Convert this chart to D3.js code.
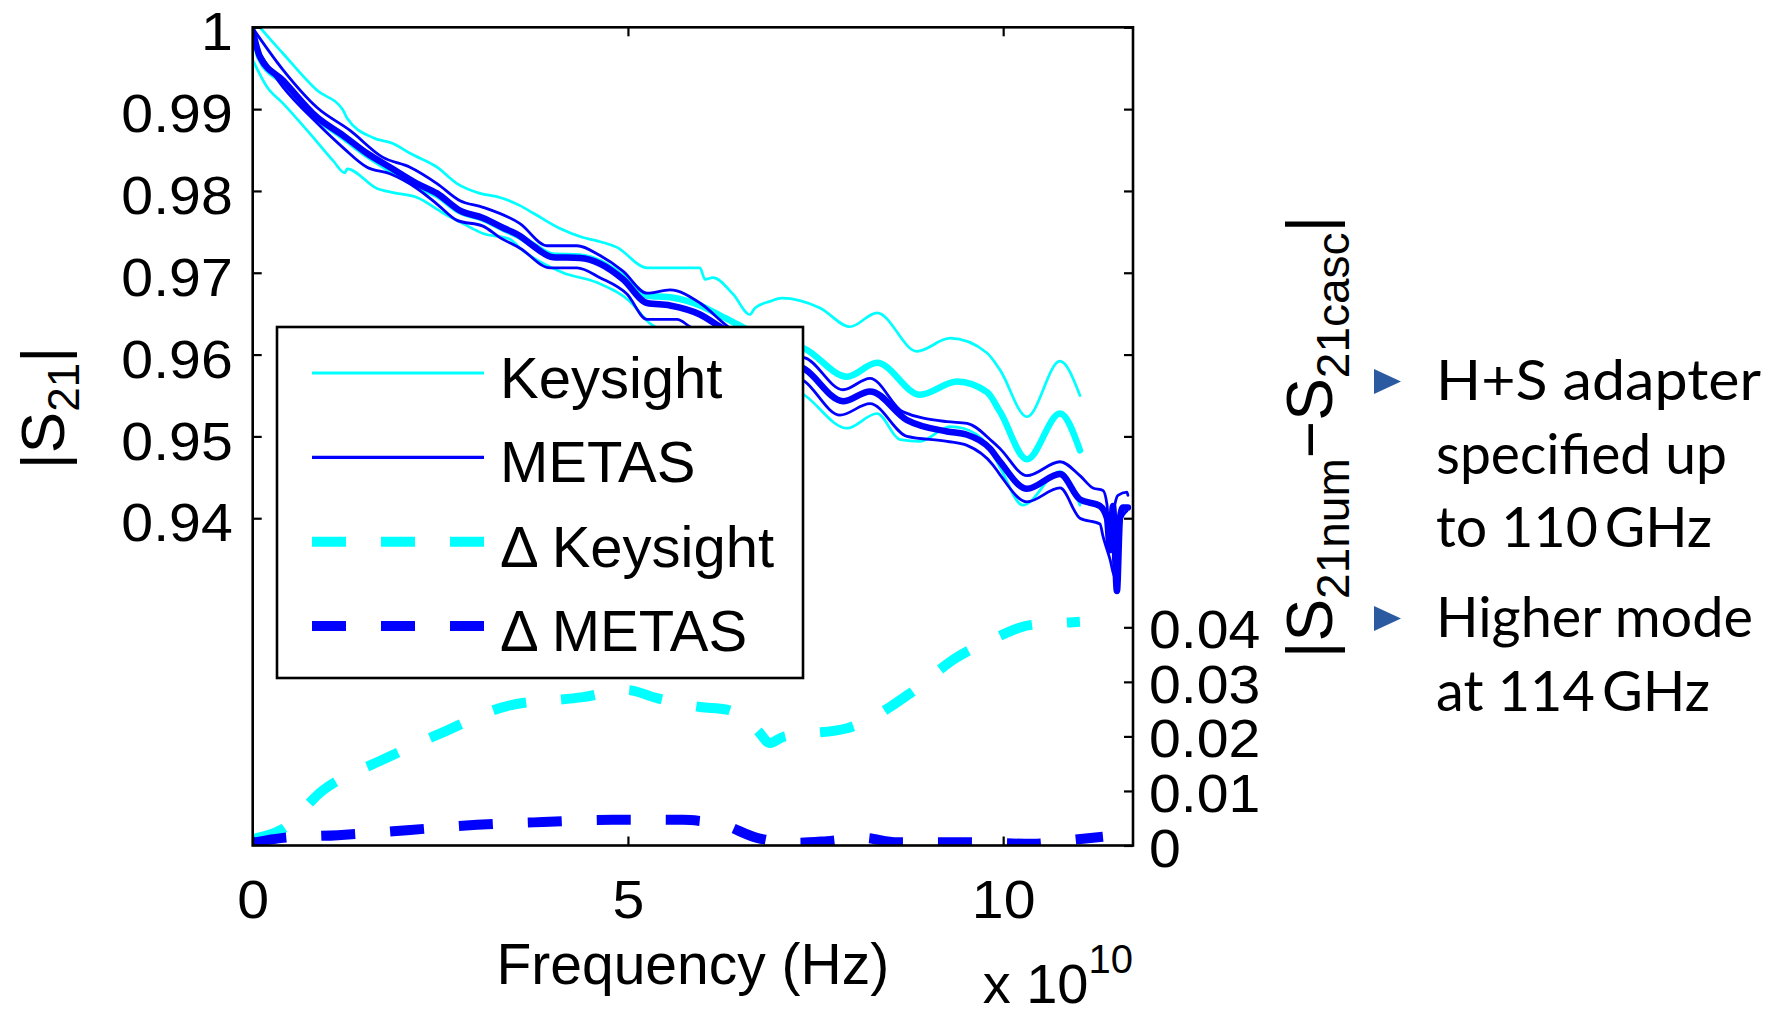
<!DOCTYPE html>
<html><head><meta charset="utf-8">
<script src="https://cdn.jsdelivr.net/npm/d3@7"></script>
<style>
html,body{margin:0;padding:0;background:#fff;}
svg{display:block;background:#fff;}
text{font-family:"Liberation Sans",Arial,Helvetica,sans-serif;fill:#000;}
</style></head><body>
<svg id="chart" width="1774" height="1016"></svg>
<script>
// ---------- DATA (frequency in GHz, |S21| linear) ----------
const keysightUpper = [[0,1.0011],[0.97,1.0000],[4.04,0.9968],[8.57,0.9923],[12.03,0.9899],[12.56,0.9889],[16.03,0.9865],[18.69,0.9858],[20.96,0.9846],[24.56,0.9829],[27.23,0.9809],[30.29,0.9797],[32.95,0.9792],[35.62,0.9782],[37.35,0.9773],[40.95,0.9754],[44.01,0.9743],[45.88,0.9739],[48.54,0.9731],[52.54,0.9706],[55.20,0.9706],[59.60,0.9706],[60.27,0.9692],[61.33,0.9694],[64.00,0.9674],[66.26,0.9649],[66.93,0.9657],[68.93,0.9665],[70.53,0.9669],[75.60,0.9657],[79.60,0.9634],[83.19,0.9651],[88.52,0.9604],[92.92,0.9620],[97.85,0.9602],[99.59,0.9581],[103.17,0.9524],[107.57,0.9592],[110.23,0.9550]];
const keysightNominal = [[0,0.9995],[0.97,0.9962],[4.04,0.9933],[8.57,0.9889],[12.03,0.9866],[15.23,0.9844],[18.29,0.9826],[21.90,0.9807],[24.56,0.9795],[27.63,0.9775],[30.69,0.9766],[33.35,0.9754],[35.62,0.9744],[37.35,0.9734],[40.01,0.9721],[43.61,0.9720],[46.28,0.9713],[49.34,0.9695],[52.54,0.9672],[55.60,0.9670],[59.60,0.9660],[62.26,0.9648],[68.00,0.9622],[73.60,0.9607],[79.20,0.9573],[83.19,0.9590],[88.92,0.9551],[93.85,0.9567],[97.85,0.9554],[99.59,0.9530],[103.17,0.9472],[107.57,0.9528],[110.23,0.9483]];
const keysightLower = [[0,0.9960],[1.91,0.9927],[4.04,0.9907],[7.63,0.9870],[10.70,0.9837],[12.30,0.9822],[12.56,0.9827],[16.56,0.9803],[18.69,0.9798],[21.90,0.9792],[25.36,0.9773],[28.02,0.9760],[30.69,0.9748],[34.28,0.9741],[35.62,0.9730],[41.35,0.9700],[45.88,0.9688],[50.27,0.9665],[52.94,0.9638],[58.00,0.9620],[66.00,0.9590],[73.60,0.9550],[79.20,0.9510],[83.19,0.9528],[86.26,0.9496],[88.92,0.9494],[92.92,0.9512],[94.65,0.9510],[97.85,0.9490],[99.59,0.9462],[102.64,0.9416],[107.57,0.9457],[110.23,0.9416]];
const metasUpper = [[0,0.9999],[4.04,0.9948],[8.57,0.9902],[12.96,0.9874],[17.36,0.9841],[20.96,0.9829],[24.56,0.9809],[27.63,0.9788],[30.69,0.9780],[35.62,0.9760],[39.21,0.9733],[43.21,0.9733],[46.28,0.9721],[49.34,0.9702],[52.54,0.9675],[55.60,0.9679],[59.60,0.9663],[63.20,0.9635],[68.93,0.9602],[73.60,0.9596],[78.66,0.9557],[82.26,0.9571],[86.66,0.9530],[92.52,0.9518],[95.18,0.9516],[98.65,0.9493],[99.59,0.9485],[103.17,0.9452],[107.57,0.9469],[110.23,0.9452],[111.96,0.9437],[113.30,0.9434],[113.83,0.9417],[114.23,0.9361],[114.89,0.9417],[115.29,0.9428],[116.49,0.9432],[116.62,0.9428]];
const metasNominal = [[0,0.9995],[0.97,0.9964],[4.04,0.9935],[8.57,0.9890],[12.03,0.9868],[15.23,0.9846],[18.29,0.9829],[21.90,0.9809],[24.56,0.9797],[27.63,0.9776],[30.69,0.9767],[33.35,0.9755],[35.62,0.9745],[37.35,0.9733],[40.01,0.9719],[43.61,0.9718],[46.28,0.9711],[49.34,0.9692],[52.54,0.9663],[55.60,0.9660],[59.60,0.9649],[62.26,0.9634],[68.93,0.9600],[73.60,0.9582],[78.66,0.9543],[82.26,0.9555],[87.19,0.9520],[92.52,0.9506],[95.18,0.9502],[98.25,0.9485],[99.59,0.9469],[103.17,0.9436],[107.57,0.9454],[110.23,0.9423],[112.90,0.9415],[113.83,0.9400],[114.23,0.9361],[114.63,0.9415],[115.16,0.9311],[115.56,0.9400],[115.96,0.9413],[116.62,0.9413]];
const metasLower = [[0,0.9981],[4.04,0.9927],[8.57,0.9883],[12.03,0.9853],[15.23,0.9829],[18.29,0.9821],[21.90,0.9803],[24.56,0.9784],[27.23,0.9764],[30.69,0.9757],[32.95,0.9743],[35.62,0.9730],[39.61,0.9706],[43.21,0.9706],[46.28,0.9694],[49.87,0.9674],[52.54,0.9643],[56.54,0.9643],[58.27,0.9634],[66.00,0.9595],[73.60,0.9567],[78.26,0.9526],[82.26,0.9540],[87.19,0.9500],[92.52,0.9494],[95.18,0.9489],[98.65,0.9465],[99.59,0.9453],[103.17,0.9420],[107.57,0.9437],[110.23,0.9400],[112.90,0.9393],[113.30,0.9378],[114.23,0.9350],[114.89,0.9328],[115.56,0.9395],[116.49,0.9409]];
// difference curves (right axis)
const deltaKeysight = [[0,0.0012],[3.70,0.0028],[9.43,0.0102],[17.29,0.0157],[25.42,0.0208],[34.28,0.0257],[44.01,0.0272],[49.87,0.0285],[53.87,0.0270],[59.60,0.0254],[63.20,0.0249],[67.20,0.0212],[68.93,0.0188],[70.66,0.0199],[79.20,0.0215],[84.93,0.0254],[87.59,0.0279],[93.85,0.0345],[98.25,0.0376],[103.57,0.0404],[108.90,0.0409],[110.23,0.0410]];
const deltaMetas = [[0,0.0005],[4.04,0.0014],[11.35,0.0019],[20.56,0.0028],[29.89,0.0038],[38.68,0.0043],[48.01,0.0047],[57.34,0.0047],[59.60,0.0045],[62.26,0.0040],[67.20,0.0014],[72.53,0.0005],[76.53,0.0008],[81.33,0.0014],[85.86,0.0006],[94.91,0.0006],[103.97,0.0003],[108.90,0.0010],[113.30,0.0016]];
// ticks
const xTickValues = [0, 50, 100];
const xTickLabels = ["0", "5", "10"];
const yLeftTicks = [0.94, 0.95, 0.96, 0.97, 0.98, 0.99, 1];
const yLeftLabels = ["0.94", "0.95", "0.96", "0.97", "0.98", "0.99", "1"];
const yRightTicks = [0, 0.01, 0.02, 0.03, 0.04];
const yRightLabels = ["0", "0.01", "0.02", "0.03", "0.04"];
const legendLabels = ["Keysight", "METAS", "\u0394 Keysight", "\u0394 METAS"];
const noteLines = [["H+S adapter", "specified up", "to 110\u2009GHz"], ["Higher mode", "at 114\u2009GHz"]];

// ---------- LAYOUT / STYLE ----------
const noteWidths = [[325, 291, 276], [317, 274]];
const svg = d3.select("#chart");
const L = 252.7, R = 1133, T = 27.3, B = 845.5;
const CYAN = "#00ffff", BLUE = "#0000ff";
const x = d3.scaleLinear().domain([0, 117.3]).range([L, R]);
const yL = d3.scaleLinear().domain([0.90, 1.00]).range([B, T]);
const yR = d3.scaleLinear().domain([0, 0.15]).range([B, T]);

svg.append("rect").attr("width", 1774).attr("height", 1016).attr("fill", "#fff");
svg.append("defs").append("clipPath").attr("id", "clip")
  .append("rect").attr("x", L).attr("y", T).attr("width", R - L).attr("height", B - T);

const plot = svg.append("g").attr("clip-path", "url(#clip)");
const lineL = d3.line().curve(d3.curveMonotoneX).x(d => x(d[0])).y(d => yL(d[1]));
const lineR = d3.line().curve(d3.curveMonotoneX).x(d => x(d[0])).y(d => yR(d[1]));

function drawLine(data, gen, color, w, dash) {
  const p = plot.append("path").datum(data).attr("d", gen)
    .attr("fill", "none").attr("stroke", color).attr("stroke-width", w)
    .attr("stroke-linejoin", "round").attr("stroke-linecap", dash ? "butt" : "round");
  if (dash) p.attr("stroke-dasharray", dash);
}
drawLine(keysightUpper, lineL, CYAN, 2.7);
drawLine(keysightLower, lineL, CYAN, 2.7);
drawLine(keysightNominal, lineL, CYAN, 6.5);
drawLine(metasUpper, lineL, BLUE, 2.8);
drawLine(metasLower, lineL, BLUE, 2.8);
drawLine(metasNominal, lineL, BLUE, 6.5);
drawLine(deltaKeysight, lineR, CYAN, 10, "34,35");
drawLine(deltaMetas, lineR, BLUE, 10, "34,35");

// ---------- AXES ----------
const TICK = 9, FS = 54, STRETCH = 1.06;
function styleAxis(g) {
  g.select(".domain").remove();
  g.selectAll(".tick line").attr("stroke", "#000").attr("stroke-width", 2.2);
  g.selectAll("text").attr("font-size", FS).attr("fill", "#000")
    .attr("font-family", "'Liberation Sans', Arial, sans-serif")
    .attr("transform", function () {
      const tx = +d3.select(this).attr("x") || 0;
      return `translate(${tx},0) scale(${STRETCH},1) translate(${-tx},0)`;
    });
}
svg.append("g").attr("transform", `translate(${L},0)`)
  .call(d3.axisLeft(yL).tickValues(yLeftTicks).tickSizeInner(-TICK).tickSizeOuter(0)
    .tickPadding(20).tickFormat((d, i) => yLeftLabels[i]))
  .call(styleAxis)
  .call(g => g.selectAll("text").attr("dy", "0.42em"));
svg.append("g").attr("transform", `translate(${R},0)`)
  .call(d3.axisRight(yL).tickValues(yLeftTicks).tickSizeInner(-TICK).tickSizeOuter(0).tickFormat(""))
  .call(styleAxis);
svg.append("g").attr("transform", `translate(${R},0)`)
  .call(d3.axisRight(yR).tickValues(yRightTicks).tickSizeInner(-TICK).tickSizeOuter(0)
    .tickPadding(16).tickFormat((d, i) => yRightLabels[i]))
  .call(styleAxis)
  .call(g => g.selectAll("text").attr("dy", "0.38em"));
svg.append("g").attr("transform", `translate(0,${B})`)
  .call(d3.axisBottom(x).tickValues(xTickValues).tickSizeInner(-TICK).tickSizeOuter(0)
    .tickPadding(34).tickFormat((d, i) => xTickLabels[i]))
  .call(styleAxis);
svg.append("g").attr("transform", `translate(0,${T})`)
  .call(d3.axisTop(x).tickValues(xTickValues).tickSizeInner(-TICK).tickSizeOuter(0).tickFormat(""))
  .call(styleAxis);
svg.append("rect").attr("x", L).attr("y", T).attr("width", R - L).attr("height", B - T)
  .attr("fill", "none").attr("stroke", "#000").attr("stroke-width", 2.6);

// axis labels
svg.append("text").attr("x", (L + R) / 2).attr("y", 984).attr("text-anchor", "middle")
  .attr("font-size", 57).text("Frequency (Hz)");
const ex = svg.append("text").attr("x", R).attr("y", 1003).attr("text-anchor", "end").attr("font-size", 56);
ex.append("tspan").text("x 10");
ex.append("tspan").attr("dy", -30).attr("font-size", 40).text("10");

const yl = svg.append("text").attr("transform", "translate(64,408) rotate(-90)")
  .attr("text-anchor", "middle").attr("font-size", 62);
yl.append("tspan").text("|S");
yl.append("tspan").attr("dy", 15).attr("font-size", 44).text("21");
yl.append("tspan").attr("dy", -15).text("|");

const yr = svg.append("text").attr("transform", "translate(1332,437) rotate(-90)")
  .attr("text-anchor", "middle").attr("font-size", 64);
yr.append("tspan").text("|S");
yr.append("tspan").attr("dy", 17).attr("font-size", 46).text("21num");
yr.append("tspan").attr("dy", -17).text("\u2212S");
yr.append("tspan").attr("dy", 17).attr("font-size", 46).text("21casc");
yr.append("tspan").attr("dy", -17).text("|");

// ---------- LEGEND ----------
const lg = svg.append("g");
lg.append("rect").attr("x", 277).attr("y", 327).attr("width", 526).attr("height", 351)
  .attr("fill", "#fff").attr("stroke", "#000").attr("stroke-width", 2.6);
const legendStyle = [
  { color: CYAN, w: 3, dash: null },
  { color: BLUE, w: 3.2, dash: null },
  { color: CYAN, w: 10, dash: "34,35" },
  { color: BLUE, w: 10, dash: "34,35" }
];
const rowY = d3.scalePoint().domain(legendLabels).range([373, 626]);
legendLabels.forEach((lab, i) => {
  const yy = rowY(lab);
  const s = legendStyle[i];
  const ln = lg.append("line").attr("x1", 312).attr("x2", 484).attr("y1", yy).attr("y2", yy)
    .attr("stroke", s.color).attr("stroke-width", s.w);
  if (s.dash) ln.attr("stroke-dasharray", s.dash);
  lg.append("text").attr("x", 500).attr("y", yy + 25).attr("font-size", 58).text(lab);
});

// ---------- BULLET NOTES ----------
const noteStart = [400, 637];
noteLines.forEach((lines, k) => {
  const y0 = noteStart[k];
  svg.append("path")
    .attr("d", `M1374,${y0 - 31} L1401,${y0 - 18.5} L1374,${y0 - 6} Z`)
    .attr("fill", "#2c5aa0");
  lines.forEach((t, j) => {
    svg.append("text").attr("x", 1436).attr("y", y0 + j * 73.5)
      .attr("font-size", 56)
      .style("font-family", "Lato, 'Open Sans', sans-serif")
      .attr("textLength", noteWidths[k][j]).attr("lengthAdjust", "spacingAndGlyphs")
      .text(t);
  });
});
</script>
</body></html>
